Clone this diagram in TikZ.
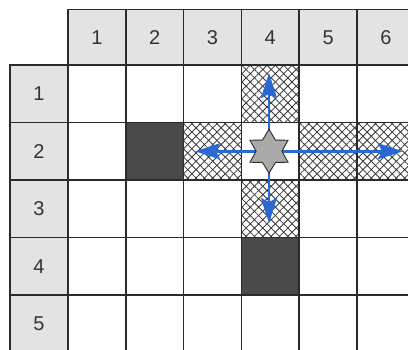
\documentclass[tikz,border=0pt]{standalone}
\usepackage{fontspec}
\setmainfont{Liberation Sans}
\usetikzlibrary{patterns.meta,shapes.geometric,arrows.meta}
\definecolor{hdr}{HTML}{E3E3E3}
\definecolor{darkcell}{HTML}{4A4A4A}
\definecolor{arr}{HTML}{2A68D4}
\definecolor{gridc}{HTML}{2B2B2B}
\definecolor{txt}{HTML}{333333}
\definecolor{starfill}{HTML}{A9A9A9}
\tikzset{
  lbl/.style={text=txt, font=\fontsize{20}{24}\selectfont, inner sep=0pt},
  gl/.style={draw=gridc, line width=1.7pt},
  hatchA/.style={pattern={Lines[angle=45,distance=5.9pt,line width=0.8pt]}, pattern color=black!78},
  hatchB/.style={pattern={Lines[angle=-45,distance=5.9pt,line width=0.8pt]}, pattern color=black!78},
  arrline/.style={draw=arr, line width=2.6pt, -{Stealth[length=25pt,width=16pt,inset=4pt]}},
  starnode/.style={star, star points=6, star point ratio=1.7, minimum size=44pt, inner sep=0pt, fill=starfill, draw=gridc, line width=0.9pt}
}
\begin{document}
\begin{tikzpicture}[x=1pt,y=-1pt]
\useasboundingbox (0,0) rectangle (408,349);
\clip (0,0) rectangle (408,349);
\fill[white] (0,0) rectangle (408,349);
% header fills
\fill[hdr] (68,9.5) rectangle (416,65);
\fill[hdr] (10,65) rectangle (68,352);
% hatched cells
\foreach \i/\j in {1/4,2/3,2/5,2/6,3/4}{
  \fill[hatchA] ({68+57.8*(\j-1)},{65+57.5*(\i-1)}) rectangle ++(57.8,57.5);
  \fill[hatchB] ({68+57.8*(\j-1)},{65+57.5*(\i-1)}) rectangle ++(57.8,57.5);
}
% dark cells
\foreach \i/\j in {2/2,4/4}{
  \fill[darkcell] ({68+57.8*(\j-1)},{65+57.5*(\i-1)}) rectangle ++(57.8,57.5);
}
% grid lines
\foreach \j in {1,...,7}{
  \draw[gl] ({68+57.8*(\j-1)},9.5) -- ({68+57.8*(\j-1)},352);
}
\draw[gl] (10,65) -- (10,352);
\draw[gl] (67.2,9.5) -- (416,9.5);
\foreach \i in {1,...,6}{
  \draw[gl] (9.2,{65+57.5*(\i-1)}) -- (416,{65+57.5*(\i-1)});
}
% labels
\foreach \j in {1,...,6}{
  \node[lbl] (h\j) at ({68+57.8*(\j-0.5)},37.5) {\j};
}
\foreach \i in {1,...,5}{
  \node[lbl] (r\i) at (39,{65+57.5*(\i-0.5)}) {\i};
}
% arrows
\coordinate (c) at (269,151.25);
\coordinate (tU) at (269,73);
\coordinate (tD) at (269,223);
\coordinate (tL) at (195,151.25);
\coordinate (tR) at (403,151.25);
\draw[arrline] (c) -- (tU);
\draw[arrline] (c) -- (tD);
\draw[arrline] (c) -- (tL);
\draw[arrline] (c) -- (tR);
\node[starnode] (s) at (c) {};
\end{tikzpicture}
\end{document}
